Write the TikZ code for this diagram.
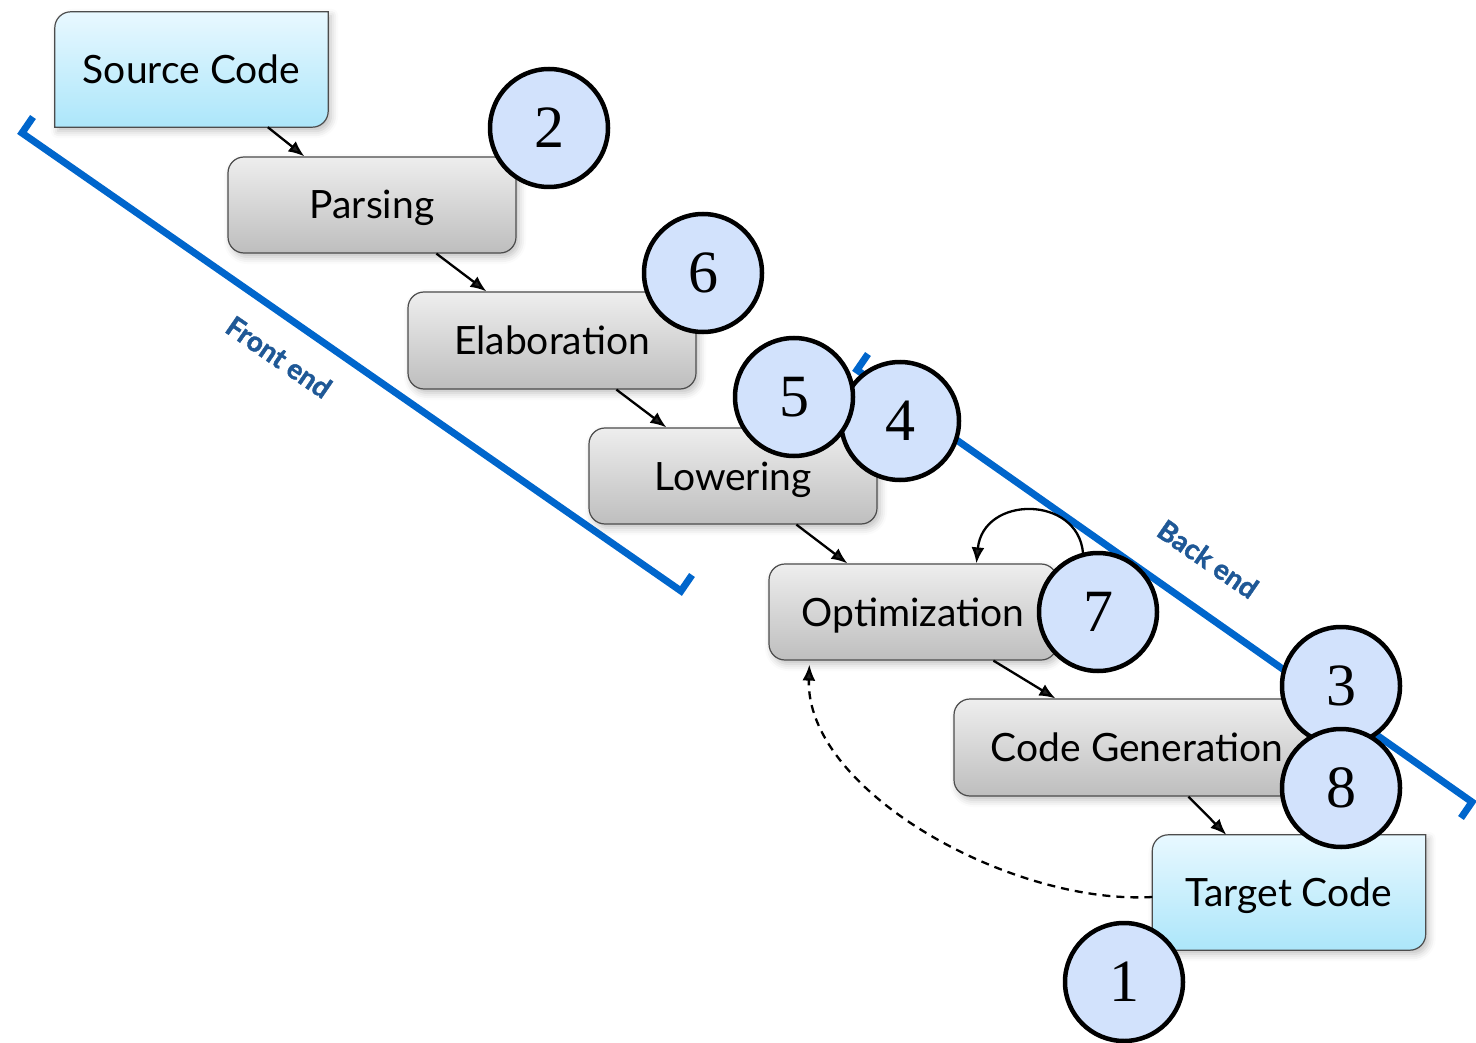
\documentclass[tikz,border=0pt]{standalone}
\usepackage{fontspec}
\setmainfont{Lato}
\newfontfamily\numfont{Liberation Serif}
\newfontfamily\labfont{Lato}[BoldFeatures={FakeBold=1.5}]
\usetikzlibrary{arrows.meta,shadows.blur,calc,backgrounds}
\definecolor{bracketblue}{RGB}{0,102,204}
\definecolor{labelblue}{RGB}{31,88,150}
\definecolor{circfill}{RGB}{210,226,252}
\definecolor{cyantop}{RGB}{232,248,255}
\definecolor{cyanbot}{RGB}{172,230,250}
\definecolor{graytop}{RGB}{238,238,238}
\definecolor{graybot}{RGB}{190,190,190}
\tikzset{
  boxshadow/.style={blur shadow={shadow xshift=3pt, shadow yshift=-4pt, shadow blur radius=7pt, shadow opacity=25}},
  boxtext/.style={font=\fontsize{39}{46}\selectfont, inner sep=0pt, text=black, text height=28pt, text depth=0pt},
  graybox/.style={boxtext, draw=black!70, line width=1.2pt, rounded corners=16pt,
    top color=graytop, bottom color=graybot, boxshadow, minimum width=288pt, minimum height=96pt},
  cyanbox/.style={boxtext, minimum width=273pt, minimum height=115pt},
  cyanshape/.style={draw=black!70, line width=1.2pt, top color=cyantop, bottom color=cyanbot, boxshadow},
  num/.style={circle, draw=black, line width=4.5pt, fill=circfill, minimum size=118pt,
    inner sep=0pt, font=\numfont\fontsize{60}{60}\selectfont},
  flow/.style={-{Latex[length=16pt,width=13pt]}, line width=2.3pt},
  bracket/.style={draw=bracketblue, line width=7pt, line join=miter},
  blabel/.style={text=labelblue, font=\labfont\bfseries\fontsize{28}{30}\selectfont, rotate=-34.6}
}
\begin{document}
\begin{tikzpicture}[x=1pt,y=-1pt]
\useasboundingbox (0,0) rectangle (1476,1043);

% brackets
\coordinate (fe1) at (33,117);
\coordinate (fe2) at (22,133);
\coordinate (fe3) at (681,591);
\coordinate (fe4) at (692,575);
\coordinate (be1) at (868,354);
\coordinate (be2) at (857,370);
\coordinate (be3) at (1472,802);
\coordinate (be4) at (1461,818);
\draw[bracket] (fe1) -- (fe2) -- (fe3) -- (fe4);
\draw[bracket] (be1) -- (be2) -- (be3) -- (be4);
\node[blabel] (felabel) at (279,357) {Front end};
\node[blabel] (belabel) at (1208,559) {Back end};

% boxes
\node[cyanbox] (src) at (191.5,69.5) {Source Code};
\node[graybox] (par) at (372,205) {Parsing};
\node[graybox, minimum height=97pt] (elab) at (552,340.5) {Elaboration};
\node[graybox] (low) at (733,476) {Lowering};
\node[graybox] (opt) at (913,612) {Optimization};
\node[graybox, minimum width=366pt, minimum height=97pt] (cg) at (1137,747.5) {Code Generation};
\node[cyanbox] (tc) at (1289,892.5) {Target Code};

\begin{pgfonlayer}{background}
\path[cyanshape] (src.north east) [rounded corners=16pt] -- (src.north west) [sharp corners] -- (src.south west)
  [rounded corners=16pt] -- (src.south east) [sharp corners] -- cycle;
\path[cyanshape] (tc.north east) [rounded corners=16pt] -- (tc.north west) [sharp corners] -- (tc.south west)
  [rounded corners=16pt] -- (tc.south east) [sharp corners] -- cycle;
\end{pgfonlayer}

% flow arrows
\draw[flow] ($(src.south west)+(213,0)$) -- ($(par.north west)+(77,0)$);
\draw[flow] ($(par.south west)+(209,0)$) -- ($(elab.north west)+(79,0)$);
\draw[flow] ($(elab.south west)+(209,0)$) -- ($(low.north west)+(78,0)$);
\draw[flow] ($(low.south west)+(208,0)$) -- ($(opt.north west)+(79,0)$);
\draw[flow] ($(opt.south west)+(225,0)$) -- ($(cg.north west)+(102,0)$);
\draw[flow] ($(cg.south west)+(235,0)$) -- ($(tc.north west)+(74,0)$);

% self loop on optimization
\coordinate (loopstart) at (1083,553);
\draw[flow] (loopstart) .. controls (1078,495) and (983,495) .. ($(opt.north west)+(208,0)$);

% feedback dashed
\coordinate (fbend) at ($(opt.south west)+(41,4)$);
\draw[flow, dash pattern=on 8pt off 6pt] ([yshift=-4.5pt]tc.west) .. controls (1010,905) and (805,790) .. (fbend);

% numbered circles
\node[num] (c2) at (549,128) {2};
\node[num] (c6) at (703,273) {6};
\node[num] (c4) at (900,421) {4};
\node[num] (c5) at (794,397) {5};
\node[num] (c7) at (1098,612) {7};
\node[num] (c3) at (1341,686) {3};
\node[num] (c8) at (1341,788) {8};
\node[num] (c1) at (1124,982) {1};
\end{tikzpicture}
\end{document}
